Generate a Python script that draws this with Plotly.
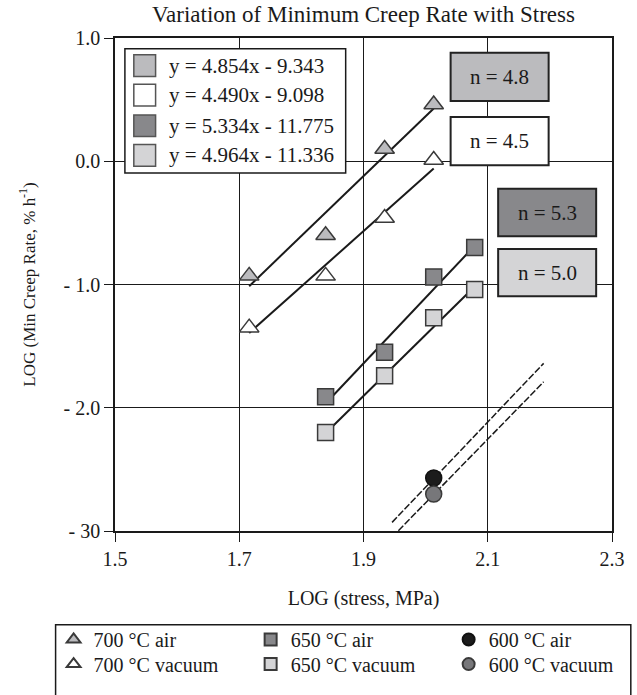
import plotly.graph_objects as go

# ---------------- data ----------------
x700 = [1.716, 1.839, 1.934, 2.013]
y700_air = [-0.93, -0.60, 0.10, 0.46]
y700_vac = [-1.35, -0.93, -0.46, 0.01]

x650 = [1.839, 1.934, 2.013, 2.079]
y650_air = [-1.91, -1.55, -0.94, -0.70]
y650_vac = [-2.20, -1.74, -1.27, -1.04]

x600 = [2.013]
y600_air = [-2.57]
y600_vac = [-2.70]

fit_slopes = [4.854, 4.490, 5.334, 4.964]
fit_intercepts = [-9.343, -9.098, -11.775, -11.336]
equation_labels = ["y = 4.854x - 9.343", "y = 4.490x - 9.098",
                   "y = 5.334x - 11.775", "y = 4.964x - 11.336"]
n_labels = ["n = 4.8", "n = 4.5", "n = 5.3", "n = 5.0"]

guide_x = [1.946, 2.19]
guide_upper_y = [-2.93, -1.64]
guide_lower_y = [-3.05, -1.79]

series_names = ["700 °C air", "700 °C vacuum", "650 °C air",
                "650 °C vacuum", "600 °C air", "600 °C vacuum"]

x_ticks = [1.5, 1.7, 1.9, 2.1, 2.3]
x_ticktext = ["1.5", "1.7", "1.9", "2.1", "2.3"]
y_ticks = [1.0, 0.0, -1.0, -2.0, -3.0]
y_ticktext = ["1.0", "0.0", "- 1.0", "- 2.0", "- 30"]

# ---------------- styles ----------------
FONT = "Liberation Serif"
INK = "#1a1a1a"
c700air, c700vac = "#bbbbbe", "#ffffff"
c650air, c650vac = "#88888b", "#d4d4d6"
c600air, c600vac = "#1c1c1c", "#77777a"
edge = "#3a3a3a"

W, H = 637, 695
L, R, T, B = 115, 617, 38, 538


def pxX(p):
    return (p - L) / (R - L)


def pxY(p):
    return (B - p) / (B - T)


fig = go.Figure()

# trend lines
fit_x = [x700, x700, x650, x650]
for xs, m, c in zip(fit_x, fit_slopes, fit_intercepts):
    xe = [min(xs), max(xs)]
    fig.add_trace(go.Scatter(x=xe, y=[m * v + c for v in xe], mode="lines",
                             line=dict(color=INK, width=2), showlegend=False,
                             hoverinfo="skip"))

# guide dashed lines for 600 C
for gy in (guide_upper_y, guide_lower_y):
    fig.add_trace(go.Scatter(x=guide_x, y=gy, mode="lines",
                             line=dict(color=INK, width=1.5, dash="7px,2px"),
                             showlegend=False, hoverinfo="skip"))

# markers
specs = [
    (x700, y700_air, "triangle-up", c700air, 17, "legend"),
    (x700, y700_vac, "triangle-up", c700vac, 17, "legend2"),
    (x650, y650_air, "square", c650air, 16, "legend3"),
    (x650, y650_vac, "square", c650vac, 16, "legend4"),
    (x600, y600_air, "circle", c600air, 16, "legend5"),
    (x600, y600_vac, "circle", c600vac, 16, "legend6"),
]
for (xs, ys, sym, col, sz, lg), name in zip(specs, series_names):
    fig.add_trace(go.Scatter(
        x=xs, y=ys, mode="markers", name=name, legend=lg,
        marker=dict(symbol=sym, size=sz, color=col,
                    line=dict(color=edge if col != c600air else "#111111", width=1.5)),
    ))

# legends positioned as a grid below the chart
col_x = [73, 272, 472]
row_y = [648, 673]
legend_layout = {}
keys = ["legend", "legend2", "legend3", "legend4", "legend5", "legend6"]
for i, k in enumerate(keys):
    cx = col_x[i // 2]
    cy = row_y[i % 2]
    legend_layout[k] = dict(
        x=pxX(cx - 20), xanchor="left", y=pxY(cy), yanchor="middle",
        xref="paper", yref="paper", bgcolor="rgba(0,0,0,0)", borderwidth=0,
        font=dict(family=FONT, size=20, color=INK), itemsizing="constant",
    )

shapes = []
annotations = []

# bottom legend frame
shapes.append(dict(type="rect", xref="paper", yref="paper",
                   x0=pxX(55), x1=pxX(636), y0=pxY(705), y1=pxY(633),
                   line=dict(color=INK, width=1.5), fillcolor="rgba(0,0,0,0)",
                   layer="below"))

# equation box
shapes.append(dict(type="rect", xref="paper", yref="paper",
                   x0=pxX(125), x1=pxX(348), y0=pxY(175), y1=pxY(49),
                   line=dict(color=INK, width=1.5), fillcolor="white"))
sw_cols = [c700air, c700vac, c650air, c650vac]
row_c = [66, 96, 127, 157]
for col, cy, txt in zip(sw_cols, row_c, equation_labels):
    shapes.append(dict(type="rect", xref="paper", yref="paper",
                       x0=pxX(134), x1=pxX(156), y0=pxY(cy + 11), y1=pxY(cy - 11),
                       line=dict(color="#555555", width=1.5), fillcolor=col))
    annotations.append(dict(text=txt, xref="paper", yref="paper",
                            x=pxX(168), y=pxY(cy), xanchor="left", yanchor="middle",
                            showarrow=False, font=dict(family=FONT, size=21, color=INK)))

# n boxes
n_boxes = [(454, 553, 53, 102, c700air), (454, 553, 118, 167, c700vac),
           (502, 601, 191, 239, c650air), (502, 601, 252, 300, c650vac)]
for (x0, x1, y0, y1, col), txt in zip(n_boxes, n_labels):
    shapes.append(dict(type="rect", xref="paper", yref="paper",
                       x0=pxX(x0), x1=pxX(x1), y0=pxY(y1), y1=pxY(y0),
                       line=dict(color="#222222", width=2), fillcolor=col))
    annotations.append(dict(text=txt, xref="paper", yref="paper",
                            x=pxX((x0 + x1) / 2), y=pxY((y0 + y1) / 2),
                            xanchor="center", yanchor="middle", showarrow=False,
                            font=dict(family=FONT, size=21, color=INK)))

axis_common = dict(showgrid=True, gridcolor=INK, gridwidth=1.3, showline=True,
                   mirror=True, linecolor=INK, linewidth=1.5, ticks="outside",
                   ticklen=9, tickwidth=1.3, tickcolor=INK, zeroline=False,
                   tickfont=dict(family=FONT, size=20, color=INK))

fig.update_layout(
    width=W, height=H,
    margin=dict(l=L, r=W - R, t=T, b=H - B),
    paper_bgcolor="white", plot_bgcolor="white",
    font=dict(family=FONT, color=INK, size=20),
    title=dict(text="Variation of Minimum Creep Rate with Stress",
               x=0.5, xref="paper", xanchor="center",
               y=1 - 14 / H, yref="container", yanchor="middle",
               font=dict(family=FONT, size=23, color=INK)),
    xaxis=dict(range=[1.5, 2.3], tickvals=x_ticks, ticktext=x_ticktext,
               title=dict(text="LOG (stress, MPa)", standoff=22,
                          font=dict(family=FONT, size=20, color=INK)),
               **axis_common),
    yaxis=dict(range=[-3.0, 1.0], tickvals=y_ticks, ticktext=y_ticktext,
               title=dict(text="LOG (Min Creep Rate, % h<sup>-1</sup>)", standoff=24,
                          font=dict(family=FONT, size=17, color=INK)),
               **axis_common),
    shapes=shapes, annotations=annotations,
    **legend_layout,
)

fig.write_html("out.html")
